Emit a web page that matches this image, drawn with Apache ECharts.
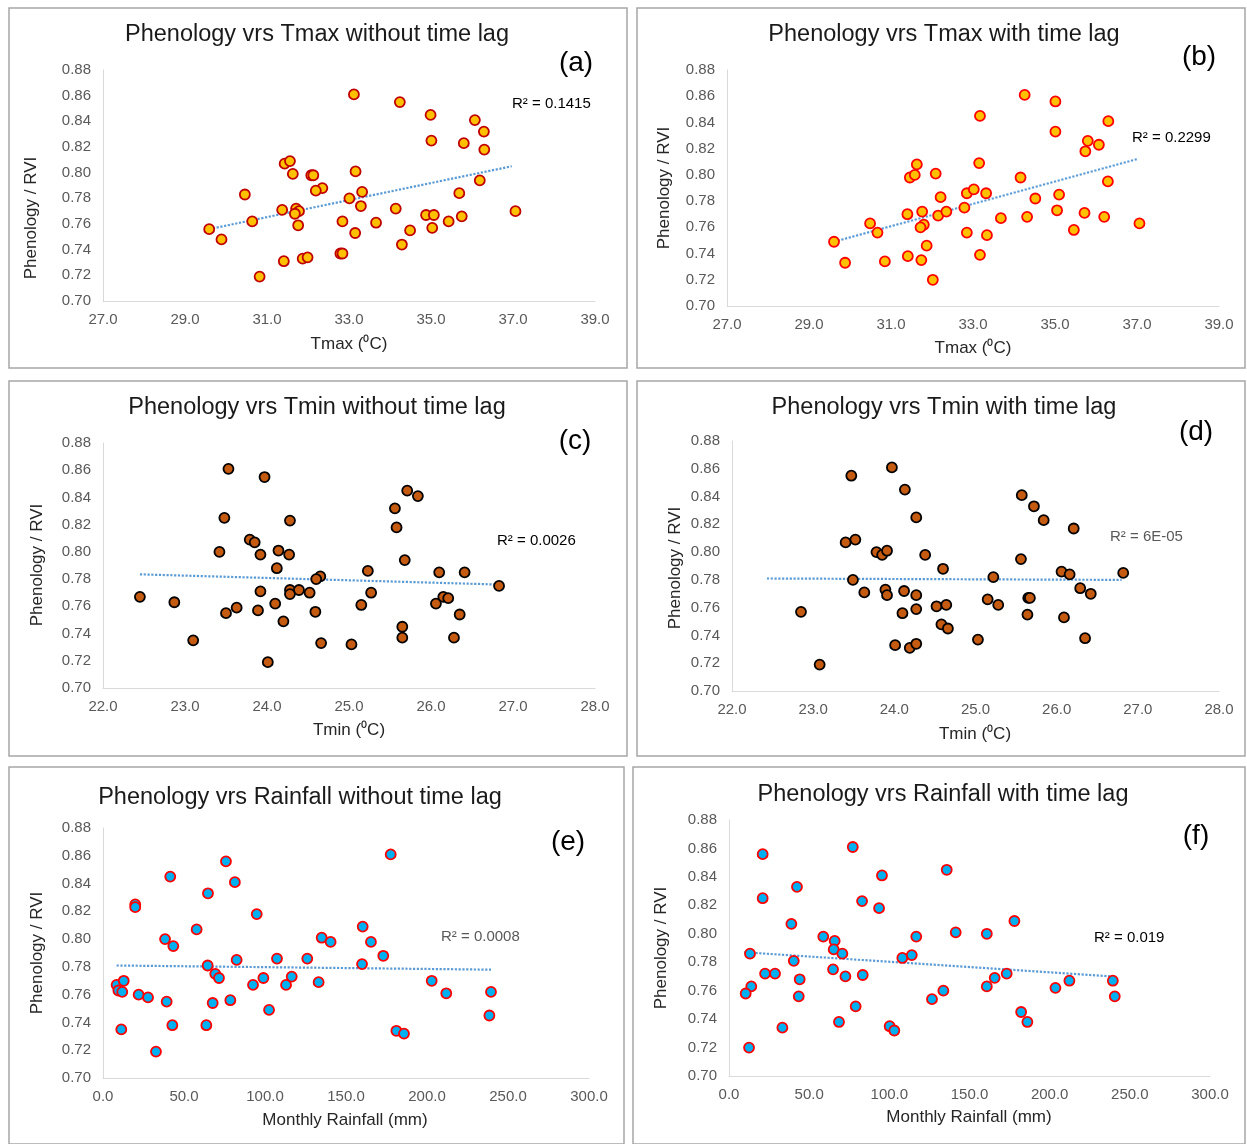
<!DOCTYPE html>
<html><head><meta charset="utf-8">
<script src="https://cdn.jsdelivr.net/npm/echarts@6/dist/echarts.min.js"></script>
<style>html,body{margin:0;padding:0;background:#fff}#c{width:1247px;height:1144px}</style>
</head><body><div id="c"></div>
<script>
// ---- (a) Tmax without lag
const aTmax=[33.12,31.43,31.56,31.63,32.08,32.13,32.35,32.19,30.46,33.16,33.01,29.59,29.89,30.64,31.37,31.71,31.78,31.68,31.76,32.84,33.15,31.41,31.87,31.99,32.79,32.84,30.82,34.24,34.99,36.07,36.29,35.01,35.80,36.30,36.19,33.32,35.69,33.29,34.14,33.66,34.88,35.07,37.06,35.75,35.43,34.49,35.03,34.29];
const aRvi=[0.861,0.807,0.809,0.799,0.798,0.798,0.788,0.786,0.783,0.801,0.780,0.756,0.748,0.762,0.771,0.772,0.770,0.768,0.759,0.762,0.753,0.731,0.733,0.734,0.737,0.737,0.719,0.855,0.845,0.841,0.832,0.825,0.823,0.818,0.794,0.785,0.784,0.774,0.772,0.761,0.767,0.767,0.770,0.766,0.762,0.755,0.757,0.744];
const aTrendX=[29.59,36.97], aTrendY=[0.756,0.805];
// ---- (b) Tmax with lag
const bTmax=[33.17,33.15,31.63,31.46,31.58,32.09,32.21,32.85,33.02,33.32,30.49,30.67,29.61,31.40,31.76,32.15,32.35,32.79,31.80,31.72,32.85,33.34,31.87,29.88,30.85,31.41,31.74,33.17,32.02,34.26,35.01,36.30,35.01,35.80,35.74,36.07,34.16,36.29,35.10,34.52,33.68,34.32,35.05,35.72,36.20,37.06,35.46];
const bRvi=[0.845,0.809,0.808,0.798,0.800,0.801,0.783,0.786,0.789,0.786,0.763,0.756,0.749,0.770,0.772,0.769,0.772,0.775,0.762,0.760,0.756,0.754,0.746,0.733,0.734,0.738,0.735,0.739,0.720,0.861,0.856,0.841,0.833,0.826,0.818,0.823,0.798,0.795,0.785,0.782,0.767,0.768,0.773,0.771,0.768,0.763,0.758];
const bTrendX=[29.61,37.0], bTrendY=[0.749,0.812];
// ---- (c) Tmin without lag
const cTmin=[23.53,23.97,23.48,24.28,23.79,23.85,23.42,23.92,24.14,24.27,24.12,24.65,24.60,22.45,22.87,23.92,24.28,24.28,24.39,24.52,23.50,23.63,23.89,24.10,24.59,24.20,23.10,24.01,24.66,25.71,25.84,25.56,25.58,25.68,25.23,26.10,26.41,26.83,25.27,25.15,26.15,26.21,26.06,26.35,25.65,25.65,26.28,25.03];
const cRvi=[0.861,0.855,0.825,0.823,0.809,0.807,0.800,0.798,0.801,0.798,0.788,0.782,0.780,0.767,0.763,0.771,0.772,0.769,0.772,0.770,0.755,0.759,0.757,0.762,0.756,0.749,0.735,0.719,0.733,0.845,0.841,0.832,0.818,0.794,0.786,0.785,0.785,0.775,0.770,0.761,0.767,0.766,0.762,0.754,0.745,0.737,0.737,0.732];
const cTrendX=[22.45,26.83], cTrendY=[0.7835,0.776];
// ---- (d) Tmin with lag
const dTmin=[23.47,23.97,24.13,24.27,23.40,23.52,23.78,23.85,23.91,24.38,24.60,23.49,23.63,23.89,23.91,24.12,24.27,22.85,24.10,24.27,24.52,24.64,24.58,24.66,24.01,24.19,24.27,23.08,25.57,25.72,25.84,26.21,25.56,26.06,26.16,26.82,25.22,26.29,26.42,25.15,25.28,25.65,25.67,25.64,26.09,25.03,26.35];
const dRvi=[0.855,0.861,0.845,0.825,0.807,0.809,0.800,0.798,0.801,0.798,0.788,0.780,0.771,0.773,0.769,0.772,0.769,0.757,0.756,0.759,0.761,0.762,0.748,0.745,0.733,0.731,0.734,0.719,0.841,0.833,0.823,0.817,0.795,0.786,0.784,0.785,0.782,0.774,0.770,0.766,0.762,0.767,0.767,0.755,0.753,0.737,0.738];
const dTrendX=[22.43,26.80], dTrendY=[0.781,0.780];
// ---- (e) Rainfall without lag
const eRain=[75.9,41.5,81.4,64.8,19.9,19.9,94.9,57.8,38.3,43.4,82.5,107.4,64.6,69.3,71.6,92.6,99.0,113.0,116.5,8.4,9.5,11.9,12.8,22.0,27.8,39.3,67.7,78.6,102.5,11.3,42.8,63.8,32.7,177.6,160.3,135.0,140.5,165.4,173.0,126.1,159.9,133.1,202.9,211.9,239.5,238.5,181.1,185.8];
const eRvi=[0.856,0.845,0.841,0.833,0.825,0.823,0.818,0.807,0.800,0.795,0.785,0.786,0.781,0.775,0.772,0.767,0.772,0.767,0.773,0.767,0.763,0.762,0.770,0.760,0.758,0.755,0.754,0.756,0.749,0.735,0.738,0.738,0.719,0.861,0.809,0.801,0.798,0.798,0.788,0.786,0.782,0.769,0.770,0.761,0.762,0.745,0.734,0.732];
const eTrendX=[8.4,239.5], eTrendY=[0.781,0.778];
// ---- (f) Rainfall with lag
const fRain=[21.0,77.2,95.4,42.4,21.0,83.0,93.6,38.9,58.8,65.9,65.3,70.7,13.1,40.4,108.1,114.0,116.8,22.5,28.7,64.9,72.6,83.4,44.1,13.9,10.4,43.5,79.0,33.3,68.6,100.2,103.1,12.5,135.8,178.0,141.4,160.8,173.2,165.7,160.8,212.3,203.6,239.4,240.6,133.7,126.6,182.2,186.1];
const fRvi=[0.856,0.861,0.841,0.833,0.825,0.823,0.818,0.807,0.798,0.795,0.789,0.786,0.786,0.781,0.783,0.785,0.798,0.772,0.772,0.775,0.770,0.771,0.768,0.763,0.758,0.756,0.749,0.734,0.738,0.735,0.732,0.720,0.845,0.809,0.801,0.800,0.772,0.769,0.763,0.767,0.762,0.767,0.756,0.760,0.754,0.745,0.738];
const fTrendX=[9.4,239.4], fTrendY=[0.787,0.770];

const titles=["Phenology vrs Tmax without time lag","Phenology vrs Tmax with time lag","Phenology vrs Tmin without time lag","Phenology vrs Tmin with time lag","Phenology vrs Rainfall without time lag","Phenology vrs Rainfall with time lag"];
const panelLabels=["(a)","(b)","(c)","(d)","(e)","(f)"];
const xNames=["Tmax (\u2070C)","Tmax (\u2070C)","Tmin (\u2070C)","Tmin (\u2070C)","Monthly Rainfall (mm)","Monthly Rainfall (mm)"];
const yName="Phenology / RVI";
const r2Labels=["R\u00b2 = 0.1415","R\u00b2 = 0.2299","R\u00b2 = 0.0026","R\u00b2 = 6E-05","R\u00b2 = 0.0008","R\u00b2 = 0.019"];
const xRanges=[[27,39,2],[27,39,2],[22,28,1],[22,28,1],[0,300,50],[0,300,50]];
const yRange=[0.70,0.88,0.02];

const X=[aTmax,bTmax,cTmin,dTmin,eRain,fRain];
const Y=[aRvi,bRvi,cRvi,dRvi,eRvi,fRvi];
const TX=[aTrendX,bTrendX,cTrendX,dTrendX,eTrendX,fTrendX];
const TY=[aTrendY,bTrendY,cTrendY,dTrendY,eTrendY,fTrendY];

// layout
const grids=[
 {left:103,top:70,width:492,height:231},
 {left:727,top:70,width:492,height:236},
 {left:103,top:443,width:492,height:245},
 {left:732,top:441,width:487,height:250},
 {left:103,top:828,width:486,height:250},
 {left:729,top:820,width:481,height:256}
];
const boxes=[[9,8,618,360],[637,8,608,360],[9,381,618,375],[637,381,608,375],[9,767,615,377],[633,767,612,377]];
const titlePos=[[317,35],[944,35],[317,408],[944,408],[300,798],[943,795]];
const labelPos=[[576,63],[1199,57],[575,441],[1196,432],[568,842],[1196,836]];
const xNamePos=[[349,344],[973,348],[349,730],[975,734],[345,1120],[969,1117]];
const yNamePos=[[31,218],[664,188],[37,565],[675,568],[37,953],[661,948]];
const r2Pos=[[512,104],[1132,138],[497,541],[1110,537],[441,937],[1094,938]];
const r2Col=['#000','#000','#000','#595959','#595959','#000'];
const mk=[
 {fill:'#FFC000',stroke:'#C00000'},
 {fill:'#FFC000',stroke:'#FF0000'},
 {fill:'#C55A11',stroke:'#000000'},
 {fill:'#C55A11',stroke:'#000000'},
 {fill:'#00B0F0',stroke:'#FF0000'},
 {fill:'#00B0F0',stroke:'#FF0000'}
];
const FONT='"Liberation Sans", Arial, sans-serif';

const xAxis=[],yAxis=[],series=[],graphic=[];
for(let i=0;i<6;i++){
  const [mn,mx,iv]=xRanges[i];
  xAxis.push({type:'value',gridIndex:i,min:mn,max:mx,interval:iv,
    axisLine:{show:true,lineStyle:{color:'#D9D9D9',width:1}},axisTick:{show:false},splitLine:{show:false},
    axisLabel:{color:'#595959',fontSize:15,fontFamily:FONT,margin:11,formatter:v=>v.toFixed(1)}});
  yAxis.push({type:'value',gridIndex:i,min:yRange[0],max:yRange[1],interval:yRange[2],
    axisLine:{show:true,lineStyle:{color:'#D9D9D9',width:1}},axisTick:{show:false},splitLine:{show:false},
    axisLabel:{color:'#595959',fontSize:15,fontFamily:FONT,margin:12,formatter:v=>v.toFixed(2)}});
  series.push({type:'line',xAxisIndex:i,yAxisIndex:i,data:TX[i].map((x,k)=>[x,TY[i][k]]),symbol:'none',silent:true,z:2,
    lineStyle:{color:'#5B9BD5',width:2.2,type:[2.2,1.6],cap:'butt'}});
  series.push({type:'scatter',xAxisIndex:i,yAxisIndex:i,data:X[i].map((x,k)=>[x,Y[i][k]]),symbol:'circle',symbolSize:10,z:3,
    itemStyle:{color:mk[i].fill,borderColor:mk[i].stroke,borderWidth:1.8,opacity:1}});
  const b=boxes[i];
  graphic.push({type:'rect',shape:{x:b[0],y:b[1],width:b[2],height:b[3]},style:{fill:'none',stroke:'#A6A6A6',lineWidth:1.5},silent:true});
  graphic.push({type:'text',x:titlePos[i][0],y:titlePos[i][1],style:{text:titles[i],font:'23.5px '+FONT,fill:'#1a1a1a',align:'center',verticalAlign:'middle'}});
  graphic.push({type:'text',x:labelPos[i][0],y:labelPos[i][1],style:{text:panelLabels[i],font:'28px '+FONT,fill:'#000',align:'center',verticalAlign:'middle'}});
  graphic.push({type:'text',x:xNamePos[i][0],y:xNamePos[i][1],style:{text:xNames[i],font:'17px '+FONT,fill:'#262626',align:'center',verticalAlign:'middle'}});
  graphic.push({type:'text',x:yNamePos[i][0],y:yNamePos[i][1],rotation:Math.PI/2,style:{text:yName,font:'17px '+FONT,fill:'#262626',align:'center',verticalAlign:'middle'}});
  graphic.push({type:'text',x:r2Pos[i][0],y:r2Pos[i][1],style:{text:r2Labels[i],font:'15px '+FONT,fill:r2Col[i],align:'left',verticalAlign:'middle'}});
}
const chart=echarts.init(document.getElementById('c'),null,{renderer:'canvas'});
chart.setOption({animation:false,backgroundColor:'#fff',grid:grids,xAxis,yAxis,series,graphic});
</script></body></html>
